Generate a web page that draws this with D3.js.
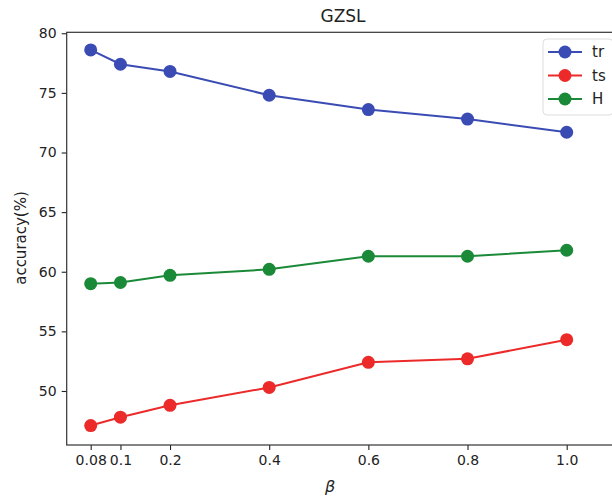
<!DOCTYPE html>
<html>
<head>
<meta charset="utf-8">
<script src="https://cdn.jsdelivr.net/npm/d3@7"></script>
<style>
  body { margin: 0; background: #fff; }
  text { font-family: "DejaVu Sans", sans-serif; fill: #222; }
</style>
</head>
<body>
<script>
// beta values (0.08 is plotted at 0.04 in the original figure)
var betaPos = [0.04, 0.1, 0.2, 0.4, 0.6, 0.8, 1.0];
var betaLabels = ["0.08", "0.1", "0.2", "0.4", "0.6", "0.8", "1.0"];
var yTicks = [50, 55, 60, 65, 70, 75, 80];

// accuracy series
var trData = [78.6, 77.4, 76.8, 74.8, 73.6, 72.8, 71.7];
var tsData = [47.1, 47.8, 48.8, 50.3, 52.4, 52.7, 54.3];
var hData  = [59.0, 59.1, 59.7, 60.2, 61.3, 61.3, 61.8];

var seriesNames = ["tr", "ts", "H"];
var seriesColors = ["#3a4cb4", "#ec2a2a", "#1b8a38"];

var W = 612, H = 498;
var margin = {left: 66.7, right: 619, top: 32.3, bottom: 445};

var svg = d3.select("body").append("svg")
    .attr("width", W).attr("height", H);

var xScale = d3.scaleLinear().domain([-0.0084, 1.1055]).range([margin.left, margin.right]);
var yScale = d3.scaleLinear().domain([45.47, 80.08]).range([margin.bottom, margin.top]);

// axes
var xAxis = d3.axisBottom(xScale)
    .tickValues(betaPos)
    .tickFormat(function(d, i) { return betaLabels[i]; })
    .tickSize(5).tickPadding(5);
var yAxis = d3.axisLeft(yScale)
    .tickValues(yTicks)
    .tickSize(5).tickPadding(5);

var gx = svg.append("g")
    .attr("transform", "translate(0," + margin.bottom + ")")
    .call(xAxis);
var gy = svg.append("g")
    .attr("transform", "translate(" + margin.left + ",0)")
    .call(yAxis);

[gx, gy].forEach(function(g) {
  g.select(".domain").remove();
  g.selectAll(".tick line").attr("stroke", "#222").attr("stroke-width", 1.1);
  g.selectAll(".tick text").style("font-size", "14px").attr("fill", "#222");
});

// frame
svg.append("rect")
  .attr("x", margin.left).attr("y", margin.top)
  .attr("width", margin.right - margin.left).attr("height", margin.bottom - margin.top)
  .attr("fill", "none").attr("stroke", "#333").attr("stroke-width", 1.2);

// lines + markers
var allSeries = [trData, tsData, hData];
var line = d3.line()
    .x(function(d, i) { return xScale(betaPos[i]); })
    .y(function(d) { return yScale(d); });

allSeries.forEach(function(data, k) {
  svg.append("path")
    .datum(data)
    .attr("d", line)
    .attr("fill", "none")
    .attr("stroke", seriesColors[k])
    .attr("stroke-width", 2);

  svg.selectAll(".dot" + k)
    .data(data)
    .enter()
    .append("circle")
    .attr("class", "dot" + k)
    .attr("cx", function(d, i) { return xScale(betaPos[i]); })
    .attr("cy", function(d) { return yScale(d); })
    .attr("r", 6.5)
    .attr("fill", seriesColors[k]);
});

// title and labels
svg.append("text")
  .attr("x", 343).attr("y", 22)
  .attr("text-anchor", "middle")
  .style("font-size", "17px")
  .text("GZSL");

svg.append("text")
  .attr("x", 330).attr("y", 492)
  .attr("text-anchor", "middle")
  .style("font-size", "16px")
  .style("font-style", "italic")
  .text("β");

svg.append("text")
  .attr("transform", "translate(26,238) rotate(-90)")
  .attr("text-anchor", "middle")
  .style("font-size", "15px")
  .text("accuracy(%)");

// legend
var legend = svg.append("g").attr("transform", "translate(543,39)");
legend.append("rect")
  .attr("width", 70).attr("height", 76)
  .attr("rx", 4)
  .attr("fill", "#fff").attr("fill-opacity", 0.8)
  .attr("stroke", "#ddd");

var item = legend.selectAll(".legend")
  .data(seriesNames)
  .enter()
  .append("g")
  .attr("class", "legend")
  .attr("transform", function(d, i) { return "translate(0," + (13 + i * 23.5) + ")"; });

item.append("line")
  .attr("x1", 5).attr("x2", 39)
  .attr("stroke", function(d, i) { return seriesColors[i]; })
  .attr("stroke-width", 2);
item.append("circle")
  .attr("cx", 22).attr("r", 6.5)
  .attr("fill", function(d, i) { return seriesColors[i]; });
item.append("text")
  .attr("x", 49).attr("dy", "0.35em")
  .style("font-size", "15px")
  .text(function(d) { return d; });
</script>
</body>
</html>
